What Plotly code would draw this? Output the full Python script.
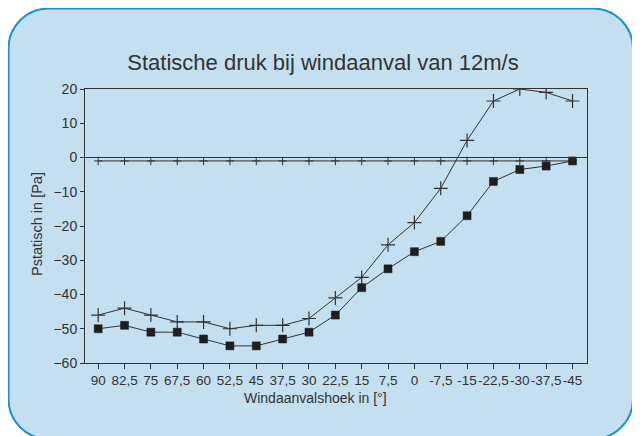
import plotly.graph_objects as go

# ---- data ----
angles = ["90", "82,5", "75", "67,5", "60", "52,5", "45", "37,5", "30", "22,5",
          "15", "7,5", "0", "-7,5", "-15", "-22,5", "-30", "-37,5", "-45"]
series_plus = [-46, -44, -46, -48, -48, -50, -49, -49, -47, -41,
               -35, -25.5, -19, -9, 5, 16.5, 20, 19, 16.5]
series_square = [-50, -49, -51, -51, -53, -55, -55, -53, -51, -46,
                 -38, -32.5, -27.5, -24.5, -17, -7, -3.5, -2.5, -1]
series_ref = [-1] * 19
y_ticks = [20, 10, 0, -10, -20, -30, -40, -50, -60]

# the page body has an 8px margin, so the figure is laid out 8px up/left
OFF = 8
W, H = 640 - OFF, 436 - OFF
L, R, T, B = 85 - OFF, 587 - OFF, 89 - OFF, 363 - OFF

def px(x):
    return (x - OFF - L) / (R - L)

def py(y):
    return (B - (y - OFF)) / (B - T)

ink = "#333333"
font = "Liberation Sans, Arial, sans-serif"

fig = go.Figure()
fig.add_trace(go.Scatter(x=angles, y=series_ref, mode="lines+markers",
                         line=dict(color=ink, width=1),
                         marker=dict(symbol="cross-thin", size=6,
                                     line=dict(color=ink, width=1)),
                         showlegend=False))
fig.add_trace(go.Scatter(x=angles, y=series_plus, mode="lines+markers",
                         line=dict(color=ink, width=1),
                         marker=dict(symbol="cross-thin", size=10,
                                     line=dict(color=ink, width=1.2)),
                         showlegend=False))
fig.add_trace(go.Scatter(x=angles, y=series_square, mode="lines+markers",
                         line=dict(color=ink, width=1),
                         marker=dict(symbol="square", size=8, color="#1e1e1e",
                                     line=dict(color="#1e1e1e", width=0.5)),
                         showlegend=False))

# rounded background box (page pixel coords -> paper)
x0, x1, y0, y1, r = 8.5, 633, 8.5, 439, 40
k = 0.5523 * r
def P(x, y):
    return f"{px(x):.5f},{py(y):.5f}"
path = (f"M {P(x0 + r, y0)} L {P(x1 - r, y0)} "
        f"C {P(x1 - r + k, y0)} {P(x1, y0 + r - k)} {P(x1, y0 + r)} "
        f"L {P(x1, y1 - r)} "
        f"C {P(x1, y1 - r + k)} {P(x1 - r + k, y1)} {P(x1 - r, y1)} "
        f"L {P(x0 + r, y1)} "
        f"C {P(x0 + r - k, y1)} {P(x0, y1 - r + k)} {P(x0, y1 - r)} "
        f"L {P(x0, y0 + r)} "
        f"C {P(x0, y0 + r - k)} {P(x0 + r - k, y0)} {P(x0 + r, y0)} Z")

fig.update_layout(
    width=W, height=H,
    margin=dict(l=L, r=W - R, t=T, b=H - B),
    paper_bgcolor="white",
    plot_bgcolor="rgba(0,0,0,0)",
    font=dict(family=font, color=ink, size=14),
    shapes=[
        dict(type="path", path=path, xref="paper", yref="paper",
             fillcolor="#c3dff0", line=dict(color="#1b92d2", width=2),
             layer="below"),
        dict(type="line", xref="paper", yref="y", x0=0, x1=1, y0=0, y1=0,
             line=dict(color=ink, width=1)),
    ],
    title=dict(text="Statische druk bij windaanval van 12m/s",
               x=(323 - OFF) / W, xref="container", xanchor="center",
               y=1 - (62 - OFF) / H, yref="container", yanchor="middle",
               font=dict(size=22, color=ink, family=font)),
    annotations=[
        dict(text="Windaanvalshoek in [°]", xref="paper", yref="paper",
             x=px(315), y=py(398), showarrow=False,
             xanchor="center", yanchor="middle",
             font=dict(size=14, color=ink)),
        dict(text="Pstatisch in [Pa]", xref="paper", yref="paper",
             x=px(37), y=py(224), showarrow=False, textangle=-90,
             xanchor="center", yanchor="middle",
             font=dict(size=14.5, color=ink)),
    ],
)
fig.update_xaxes(type="category", range=[-0.5, 18.55], showgrid=False,
                 zeroline=False, showline=True, linecolor=ink, linewidth=1,
                 mirror=True, ticks="outside", ticklen=5, tickcolor=ink,
                 ticklabelstandoff=0, tickangle=0,
                 tickfont=dict(size=13.5, color=ink))
fig.update_yaxes(range=[-60, 20], tickvals=y_ticks, showgrid=False,
                 zeroline=False, showline=True, linecolor=ink, linewidth=1,
                 mirror=True, ticks="outside", ticklen=4, tickcolor=ink,
                 tickfont=dict(size=14, color=ink))

fig.write_html("out.html")
